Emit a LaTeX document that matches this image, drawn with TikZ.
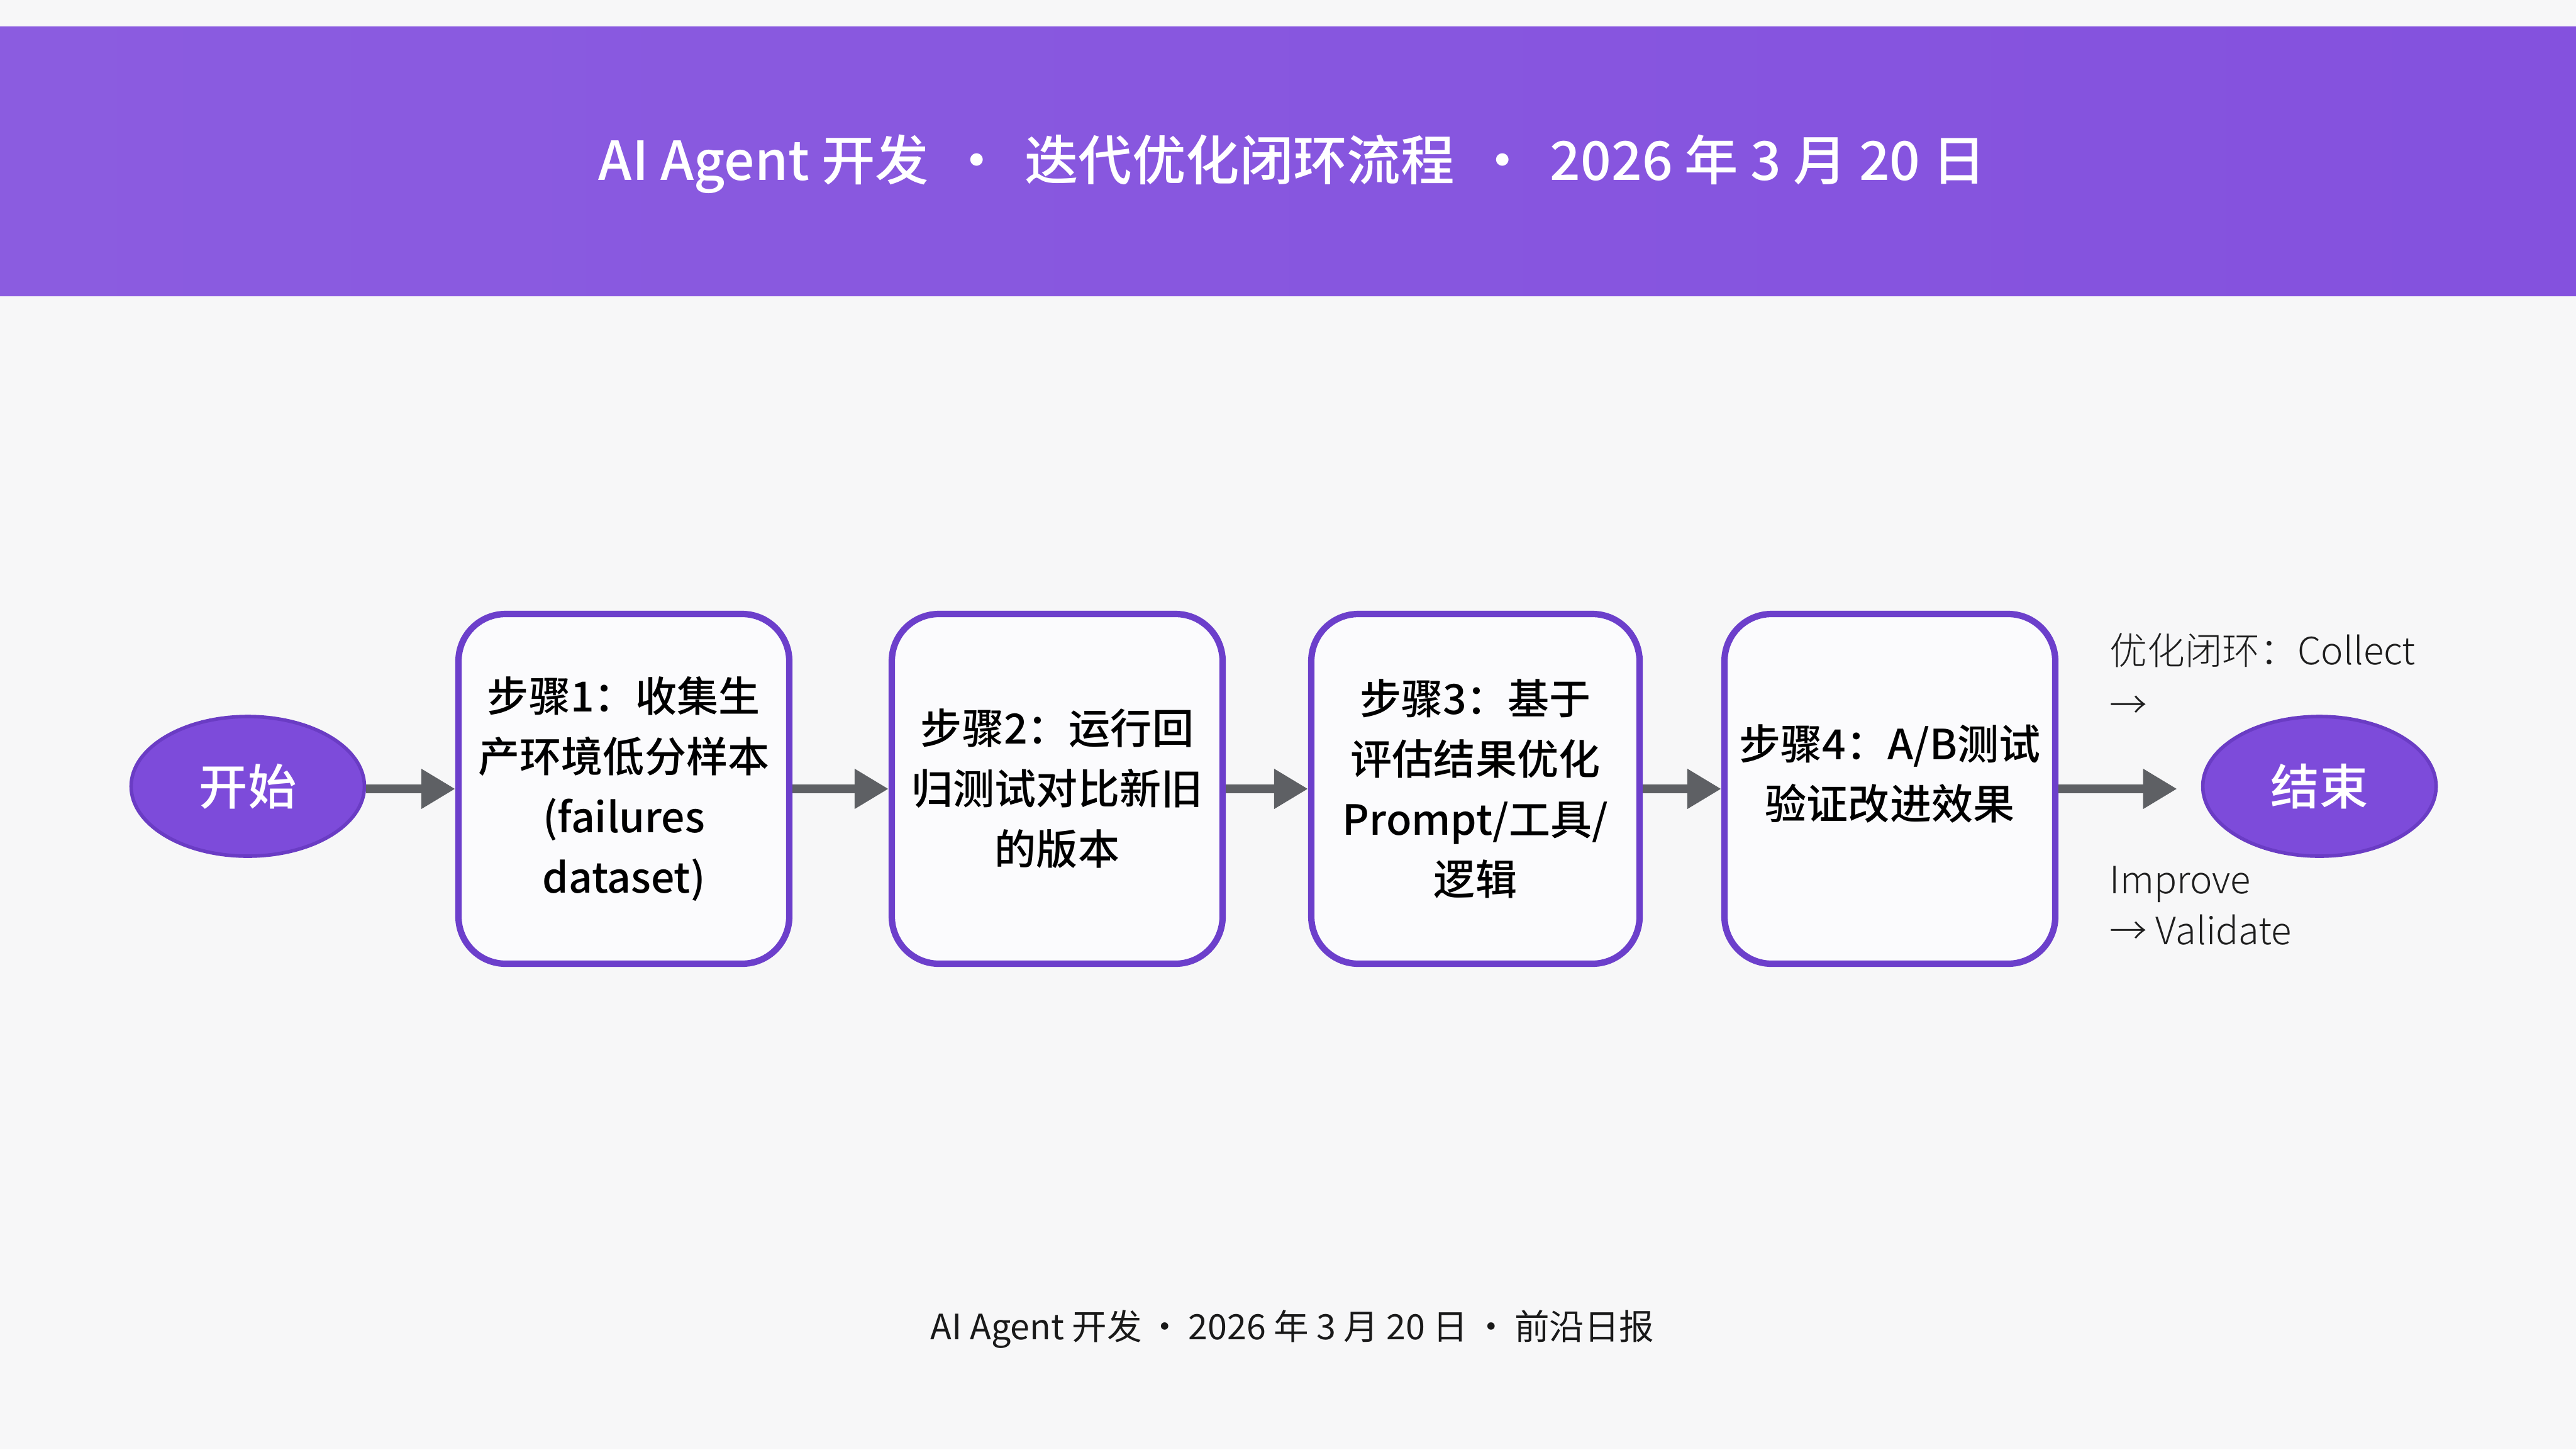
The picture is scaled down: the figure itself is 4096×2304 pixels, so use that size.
\documentclass[tikz,border=0pt]{standalone}
\usepackage{fontspec}
\setmainfont{Noto Sans CJK SC}
\newfontfamily\medfont{Noto Sans CJK SC Medium}
\newfontfamily\lightfont{Noto Sans CJK SC Light}
\usetikzlibrary{arrows.meta,shapes.geometric}
\definecolor{bg}{HTML}{F7F7F8}
\definecolor{hdrL}{HTML}{8B5CE0}
\definecolor{hdrR}{HTML}{8451DE}
\definecolor{termfill}{HTML}{7D4BDA}
\definecolor{termdraw}{HTML}{6A3CC4}
\definecolor{boxdraw}{HTML}{6C3FCB}
\definecolor{boxfill}{HTML}{FBFBFD}
\definecolor{arrowgray}{HTML}{5E6064}
\definecolor{lbl}{HTML}{1E1E1E}
\tikzset{
  terminal/.style={ellipse, fill=termfill, draw=termdraw, line width=1.6pt,
    minimum width=37.1mm, minimum height=22.2mm, inner sep=0pt,
    text=white, font=\medfont\fontsize{22}{26}\selectfont},
  stepbox/.style={rectangle, rounded corners=7.5mm, draw=boxdraw, fill=boxfill,
    line width=2.9pt, minimum width=52.6mm, minimum height=55.6mm, inner sep=0pt,
    align=center, text=black, font=\medfont\fontsize{18.8}{27.3}\selectfont},
  steptext/.style={align=center, text=black, inner sep=0pt, font=\medfont\fontsize{18.8}{27.3}\selectfont},
  flow/.style={draw=arrowgray, line width=4.2pt, -{Triangle[length=5.4mm,width=6mm]}},
  sidelabel/.style={anchor=west, align=left, text=lbl, inner sep=0pt}
}
\begin{document}
\begin{tikzpicture}[x=0.1mm,y=-0.1mm]
\useasboundingbox (0,0) rectangle (4096,2304);
\fill[bg] (0,0) rectangle (4096,2304);
\shade[left color=hdrL, right color=hdrR] (0,42) rectangle (4096,470);
\node[text=white, font=\medfont\fontsize{24.3}{29}\selectfont] (title) at (2055,261)
  {AI Agent 开发~\,•\,~迭代优化闭环流程~\,•\,~2026 年 3 月 20 日};

\node[terminal] (start) at (394,1250) {开始};
\node[stepbox] (s1) at (992,1254) {步骤1：收集生\\产环境低分样本\\(failures\\dataset)};
\node[stepbox] (s2) at (1681,1254) {步骤2：运行回\\归测试对比新旧\\的版本};
\node[stepbox, minimum width=52.2mm] (s3) at (2346,1254) {步骤3：基于\\评估结果优化\\Prompt/工具/\\逻辑};
\node[stepbox] (s4) at (3005,1254) {};
\node[steptext] (s4text) at (3005,1230) {步骤4：A/B测试\\验证改进效果};
\node[terminal] (end) at (3688,1250) {结束};

\draw[flow] (start.east |- 0,1254) -- (s1.west);
\draw[flow] (s1.east) -- (s2.west);
\draw[flow] (s2.east) -- (s3.west);
\draw[flow] (s3.east) -- (s4.west);
\draw[flow, shorten >=3.8mm] (s4.east) -- (end.west |- s4.east);

\node[sidelabel, font=\lightfont\fontsize{17}{24.5}\selectfont] (top) at (3354,1075) {优化闭环：Collect\\→};
\node[sidelabel, font=\lightfont\fontsize{17}{23}\selectfont] (bot) at (3354,1440) {Improve\\→ Validate};

\node[text=black!90, font=\fontsize{15.8}{19}\selectfont] (footer) at (2055,2113)
  {AI Agent 开发\,·\,2026 年 3 月 20 日\,·\,前沿日报};
\end{tikzpicture}
\end{document}
